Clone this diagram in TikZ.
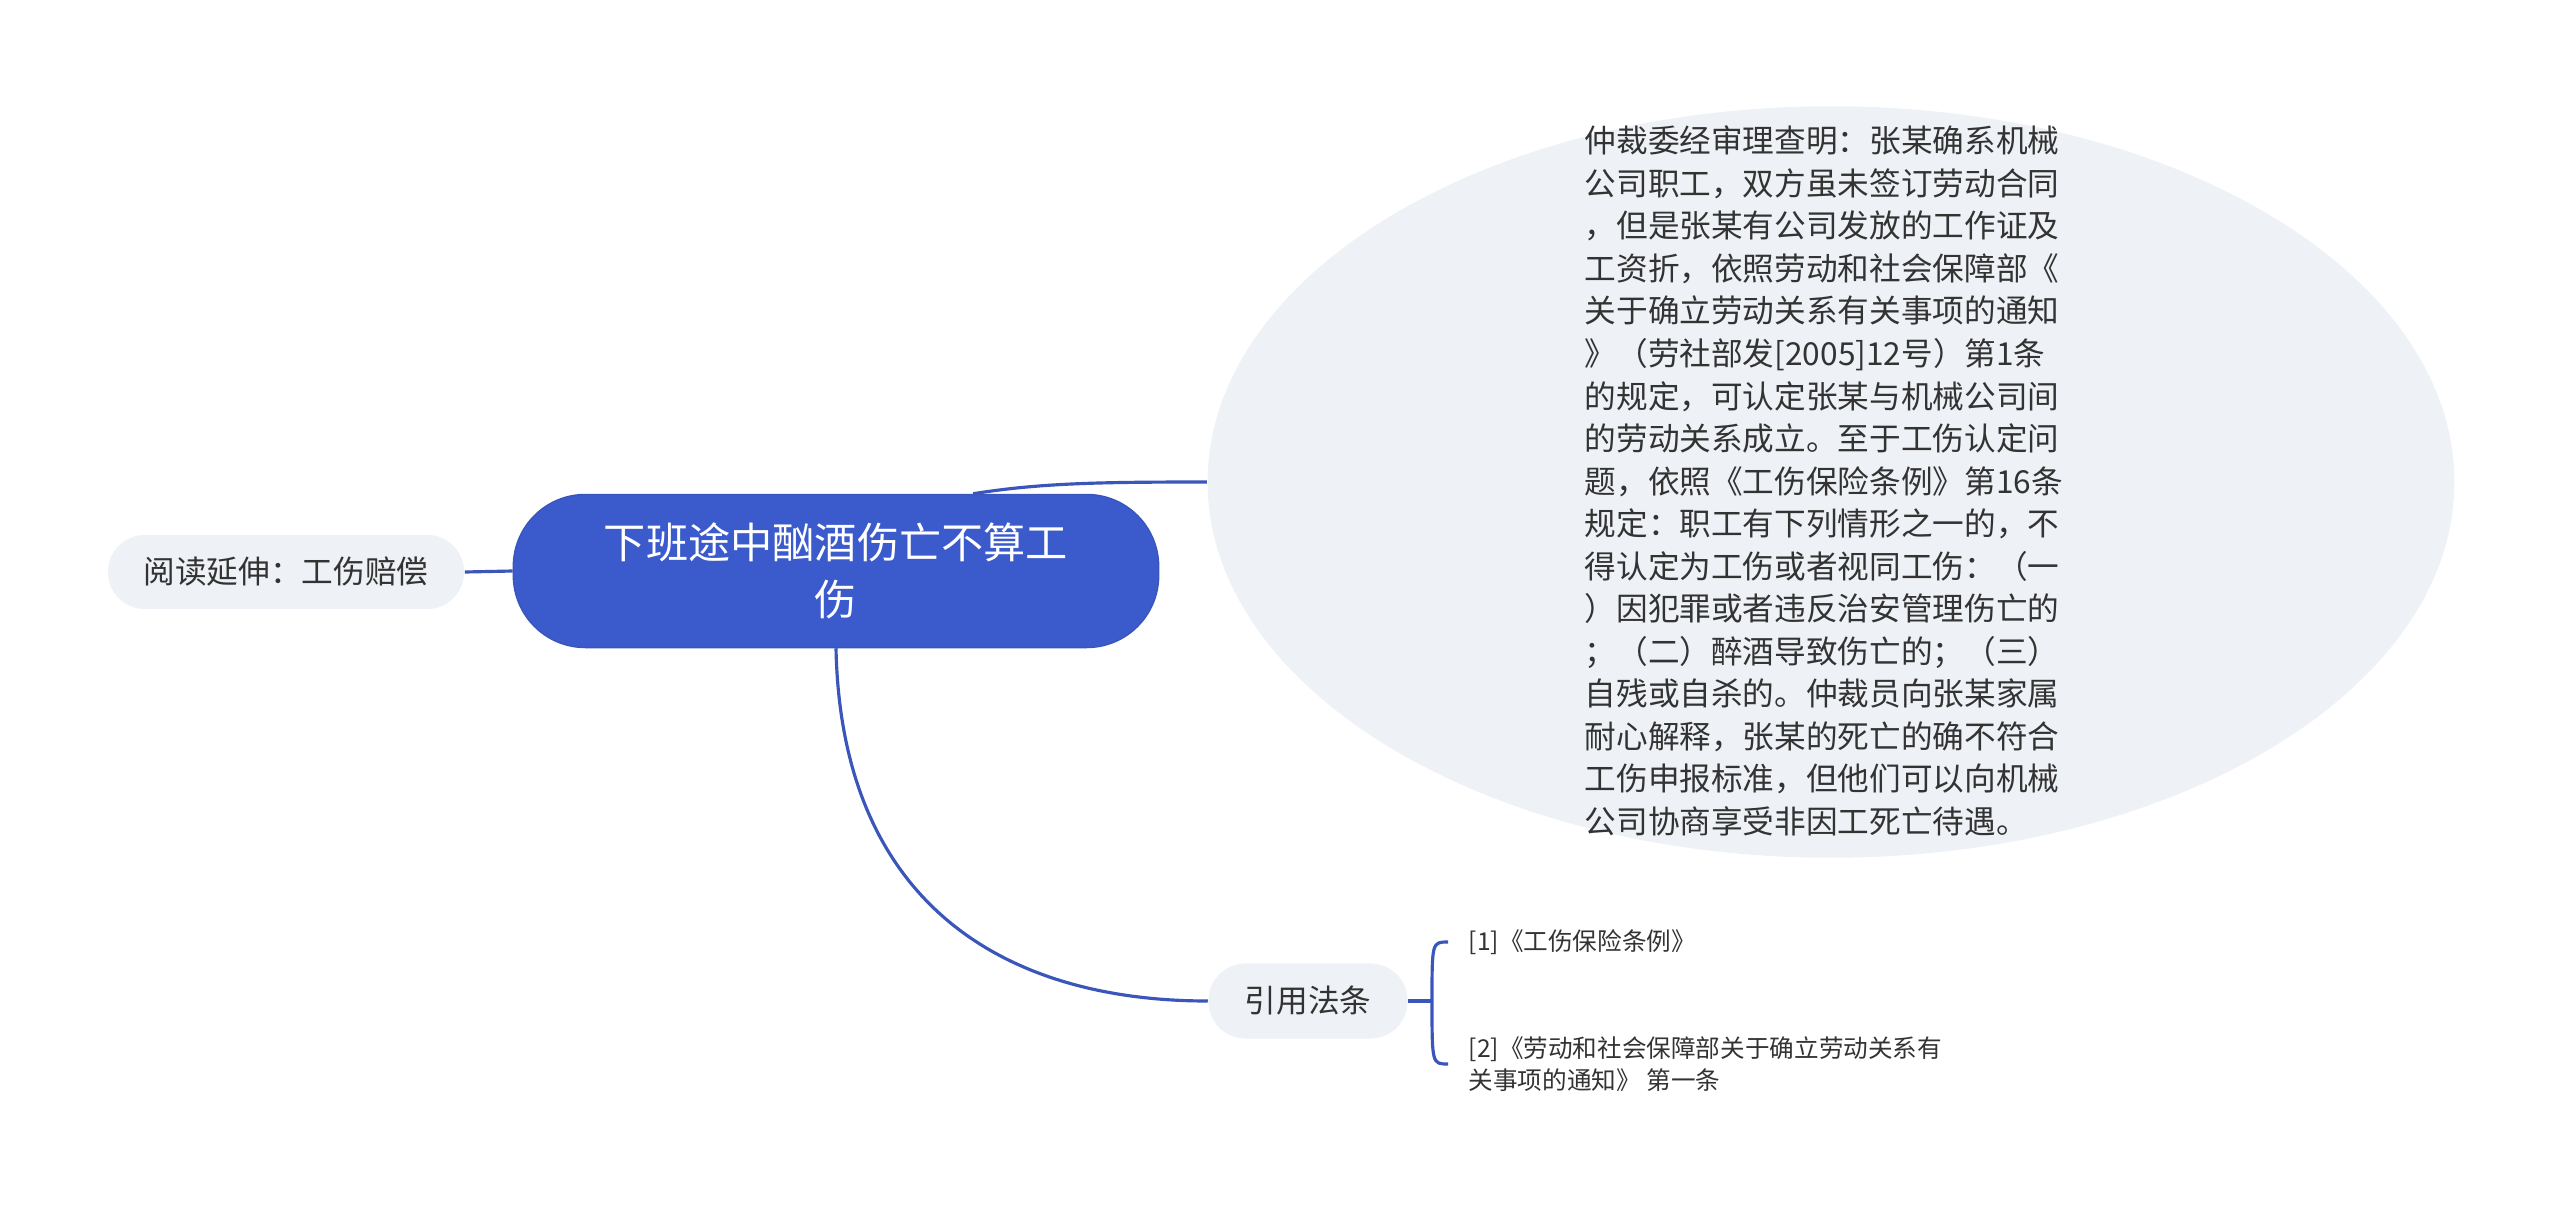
\documentclass[tikz,border=0pt]{standalone}
\usepackage{fontspec}
\setmainfont{Noto Sans CJK SC}
\usetikzlibrary{shapes.geometric}
\definecolor{rootblue}{HTML}{3B5BCC}
\definecolor{lineblue}{HTML}{3A56BB}
\definecolor{paleg}{HTML}{EEF1F5}
\definecolor{inkg}{HTML}{333333}

\begin{document}
\begin{tikzpicture}[x=0.01cm,y=-0.01cm,
  topic/.style={fill=paleg,text=inkg,inner sep=0pt,rounded corners=0.37cm,font=\fontsize{9pt}{12pt}\selectfont},
  cite/.style={anchor=west,text=inkg,inner xsep=0.2cm,inner ysep=0pt,align=left,font=\fontsize{7pt}{9.3pt}\selectfont},
  link/.style={draw=lineblue,line width=0.9pt}]
% canvas
\fill[white] (0,0) rectangle (2560,1215);
\useasboundingbox (0,0) rectangle (2560,1215);
% root and topics
\node[fill=rootblue,draw=lineblue,text=white,rounded corners=0.72cm,minimum width=6.45cm,minimum height=1.53cm,align=center,font=\fontsize{12pt}{16.2pt}\selectfont] (root) at (836,571) {下班途中酗酒伤亡不算工\\伤};
\node[topic,minimum width=3.56cm,minimum height=0.74cm] (read) at (286,572) {阅读延伸：工伤赔偿};
\node[topic,minimum width=1.99cm,minimum height=0.75cm] (laws) at (1308,1001) {引用法条};
% bubble
\node[ellipse,fill=paleg,minimum width=12.46cm,minimum height=7.51cm] (bubble) at (1831,482) {};
\node[anchor=west,text=inkg,inner sep=0pt,align=left,font=\fontsize{9pt}{12.1pt}\selectfont] (story) at (1584,481) {仲裁委经审理查明：张某确系机械\\公司职工，双方虽未签订劳动合同\\，但是张某有公司发放的工作证及\\工资折，依照劳动和社会保障部《\\关于确立劳动关系有关事项的通知\\》（劳社部发[2005]12号）第1条\\的规定，可认定张某与机械公司间\\的劳动关系成立。至于工伤认定问\\题，依照《工伤保险条例》第16条\\规定：职工有下列情形之一的，不\\得认定为工伤或者视同工伤：（一\\）因犯罪或者违反治安管理伤亡的\\；（二）醉酒导致伤亡的；（三）\\自残或自杀的。仲裁员向张某家属\\耐心解释，张某的死亡的确不符合\\工伤申报标准，但他们可以向机械\\公司协商享受非因工死亡待遇。};
% citations
\node[cite] (cone) at (1448,942) {[1]《工伤保险条例》};
\node[cite] (ctwo) at (1448,1064) {[2]《劳动和社会保障部关于确立劳动关系有\\关事项的通知》 第一条};
\coordinate (fork) at (1432,1001);
% connectors
\draw[link] (read.east) -- (root.west);
\draw[link] ([xshift=1.37cm]root.north) .. controls (1040,483) and (1100,482) .. (bubble.west);
\draw[link] (root.south) .. controls (841,900) and (1000,1001) .. (laws.west);
\draw[link] (laws.east) -- (fork);
\draw[link] (fork) .. controls (1432,942) .. (cone.west);
\draw[link] (fork) .. controls (1432,1064) .. (ctwo.west);
\end{tikzpicture}
\end{document}
